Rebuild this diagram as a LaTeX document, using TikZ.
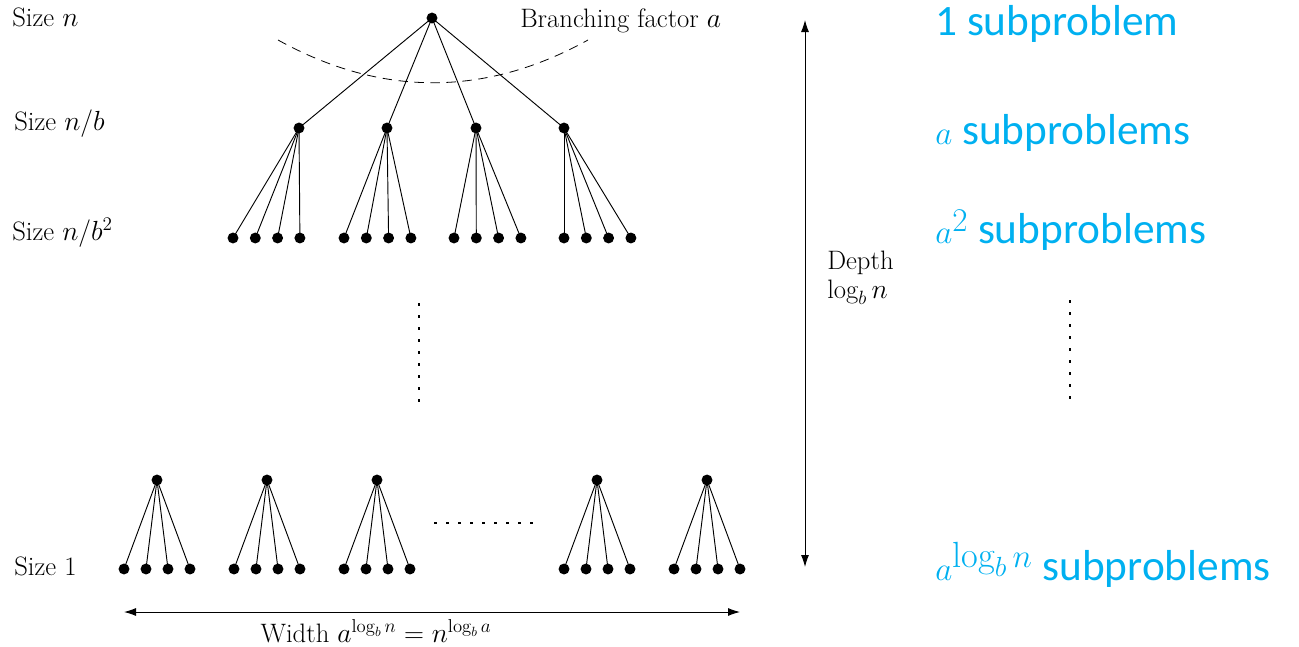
\documentclass[tikz,border=0pt]{standalone}
\usepackage{fontspec}
\newfontfamily\calibri{Carlito}
\usetikzlibrary{arrows.meta}
\definecolor{skyblue}{RGB}{0,176,240}
\newcommand{\bluemath}[1]{{\fontsize{39}{42}\selectfont$#1$}}
\begin{document}
\begin{tikzpicture}[x=0.75pt,y=-0.75pt,
  dot/.style={circle,fill=black,inner sep=0pt,minimum size=8.2pt},
  edge/.style={line width=0.7pt},
  lbl/.style={font=\fontsize{20}{23}\selectfont,inner sep=0pt},
  bluelbl/.style={font=\calibri\fontsize{32.5}{38}\selectfont,text=skyblue,anchor=west,inner sep=0pt},
  dotline/.style={line width=2.2pt,dash pattern=on 2.2pt off 6.8pt},
  dbl/.style={{Latex[length=9pt,width=6pt]}-{Latex[length=9pt,width=6pt]},line width=0.7pt}]
\useasboundingbox (0,0) rectangle (1299,646);

% top part of the tree
\node[dot] (r) at (432,18) {};
\foreach \i/\x in {1/299,2/387,3/476,4/564}
  \node[dot] (m\i) at (\x,128) {};
\foreach \i in {1,...,4}
  \draw[edge] (r.center) -- (m\i.center);
\foreach \g/\s in {1/233,2/344,3/454,4/564}
  \foreach \j in {1,...,4}
    \node[dot] (l\g\j) at ({\s+22.3*(\j-1)},238) {};
\foreach \g in {1,...,4}
  \foreach \j in {1,...,4}
    \draw[edge] (m\g.center) -- (l\g\j.center);

% dashed arc for branching factor
\coordinate (arcL) at (278,40);
\coordinate (arcR) at (588,40);
\draw[line width=0.6pt,dash pattern=on 7pt off 5pt] (arcL) .. controls (381,97) and (485,97) .. (arcR);
\node[lbl,anchor=west] (bf) at (520,21) {Branching factor $a$};

% vertical dots
\coordinate (vd1) at (419,303);
\coordinate (vd2) at (419,404);
\draw[dotline] (vd1) -- (vd2);

% bottom level
\foreach \k/\x in {1/157,2/267,3/377,4/597,5/707}{
  \node[dot] (b\k) at (\x,480) {};
  \foreach \j in {1,...,4}
    \node[dot] (c\k\j) at ({\x-33+22*(\j-1)},569) {};
}
\foreach \k in {1,...,5}
  \foreach \j in {1,...,4}
    \draw[edge] (b\k.center) -- (c\k\j.center);

% horizontal dots
\coordinate (hd1) at (434,523);
\coordinate (hd2) at (537,523);
\draw[dotline] (hd1) -- (hd2);

% width arrow
\coordinate (wl) at (124,612);
\coordinate (wr) at (740,612);
\draw[dbl] (wl) -- (wr);
\node[lbl] (wlab) at (376,631) {Width $a^{\log_b n}=n^{\log_b a}$};

% depth arrow
\coordinate (dt) at (805,20);
\coordinate (db) at (805,567);
\draw[dbl] (dt) -- (db);
\node[lbl,anchor=west] (dep) at (827,263) {Depth};
\node[lbl,anchor=west] (dlog) at (827,292) {$\log_b n$};

% left size labels
\node[lbl,anchor=west] (s0) at (12,17) {Size $n$};
\node[lbl,anchor=west] (s1) at (14,124) {Size $n/b$};
\node[lbl,anchor=west] (s2) at (12,233) {Size $n/b^2$};
\node[lbl,anchor=west] (s3) at (14,566) {Size 1};

% blue counts
\node[bluelbl] (p0) at (935,24) {1 subproblem};
\node[bluelbl] (p1) at (935,133) {\bluemath{a} subproblems};
\node[bluelbl] (p2) at (935,230) {\bluemath{a^2} subproblems};
\node[bluelbl] (p3) at (935,565) {\bluemath{a^{\log_b n}} subproblems};
\coordinate (bd1) at (1070,300);
\coordinate (bd2) at (1070,400);
\draw[dotline] (bd1) -- (bd2);
\end{tikzpicture}
\end{document}
